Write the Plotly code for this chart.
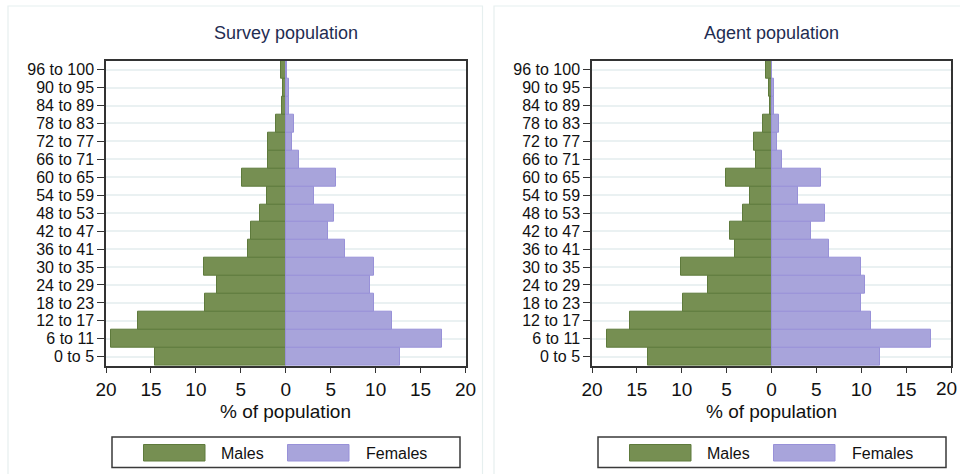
import plotly.graph_objects as go

age_groups = ["0 to 5", "6 to 11", "12 to 17", "18 to 23", "24 to 29", "30 to 35",
              "36 to 41", "42 to 47", "48 to 53", "54 to 59", "60 to 65", "66 to 71",
              "72 to 77", "78 to 83", "84 to 89", "90 to 95", "96 to 100"]

survey_males = [14.55, 19.44, 16.4, 8.94, 7.64, 9.05, 4.16, 3.82, 2.82, 2.04, 4.86,
                1.93, 1.93, 1.04, 0.4, 0.3, 0.52]
survey_females = [12.69, 17.37, 11.87, 9.87, 9.39, 9.87, 6.64, 4.75, 5.34, 3.12, 5.64,
                  1.52, 0.67, 0.89, 0.33, 0.4, 0.15]
agent_males = [13.73, 18.37, 15.81, 9.91, 7.12, 10.06, 4.12, 4.68, 3.23, 2.37, 5.05,
               1.74, 2.0, 1.0, 0.22, 0.26, 0.56]
agent_females = [12.13, 17.77, 11.13, 10.02, 10.43, 10.02, 6.38, 4.38, 6.01, 2.93, 5.57,
                 1.22, 0.56, 0.82, 0.3, 0.33, 0.11]

panel_titles = ["Survey population", "Agent population"]
x_tickvals = [-20, -15, -10, -5, 0, 5, 10, 15, 20]
x_ticktext = ["20", "15", "10", "5", "0", "5", "10", "15", "20"]

W, H = 960, 474
FONT = "Liberation Sans, Arial, sans-serif"
MALE_FILL, MALE_LINE = "#768F52", "#5E7A3C"
FEM_FILL, FEM_LINE = "#A8A4DB", "#9891D8"
GRID = "#EAF1F2"
AXIS = "#333333"

def px(x):
    return x / W

def py(y):
    return 1 - y / H

fig = go.Figure()

panels = [(survey_males, survey_females), (agent_males, agent_females)]
offsets = [0, 486]

for i, (males, females) in enumerate(panels):
    xa = "x" if i == 0 else "x2"
    ya = "y" if i == 0 else "y2"
    fig.add_trace(go.Bar(y=age_groups, x=[-v for v in males], orientation="h",
                         name="Males", xaxis=xa, yaxis=ya, showlegend=False,
                         marker=dict(color=MALE_FILL, line=dict(color=MALE_LINE, width=1))))
    fig.add_trace(go.Bar(y=age_groups, x=females, orientation="h",
                         name="Females", xaxis=xa, yaxis=ya, showlegend=False,
                         marker=dict(color=FEM_FILL, line=dict(color=FEM_LINE, width=1))))

axis_common_x = dict(range=[-20, 20], tickmode="array", tickvals=x_tickvals, ticktext=x_ticktext,
                     showgrid=False, zeroline=False, showline=True, linecolor=AXIS,
                     linewidth=1.5, mirror=True, ticks="outside", ticklen=6,
                     tickcolor=AXIS, tickwidth=1.2, tickangle=0, automargin=False,
                     tickfont=dict(family=FONT, size=19, color="#111111"), fixedrange=True)
axis_common_y = dict(type="category", categoryorder="array", categoryarray=age_groups,
                     tickmode="array", tickvals=age_groups, ticktext=age_groups,
                     range=[-0.5, 16.5], showgrid=True, gridcolor=GRID, gridwidth=1.5,
                     showline=True, linecolor=AXIS, linewidth=1.5, mirror=True,
                     ticks="outside", ticklen=7, tickcolor=AXIS, tickwidth=1.2,
                     tickfont=dict(family=FONT, size=16, color="#111111"), fixedrange=True,
                     automargin=False)

y_dom = [py(365.7), py(60.7)]
fig.update_layout(
    xaxis=dict(domain=[px(106), px(465.5)], anchor="y", **axis_common_x),
    yaxis=dict(domain=y_dom, anchor="x", **axis_common_y),
    xaxis2=dict(domain=[px(592), px(951)], anchor="y2", **axis_common_x),
    yaxis2=dict(domain=y_dom, anchor="x2", **axis_common_y),
)

shapes = []
annotations = []
# panel borders
shapes.append(dict(type="rect", xref="paper", yref="paper", x0=px(8), x1=px(482.5),
                   y0=py(480), y1=py(6), line=dict(color="#E6EFEF", width=1.2), layer="below"))
shapes.append(dict(type="rect", xref="paper", yref="paper", x0=px(494), x1=px(970),
                   y0=py(480), y1=py(6), line=dict(color="#E6EFEF", width=1.2), layer="below"))

# right-most tick label of right panel (would be hidden by plotly at the figure edge)
annotations.append(dict(text=x_ticktext[-1], x=x_tickvals[-1], xref="x2", y=py(388), yref="paper",
                        showarrow=False, xanchor="right", yanchor="middle", xshift=8,
                        font=dict(family=FONT, size=19, color="#111111")))

for i, off in enumerate(offsets):
    cx = 285.7 + off
    annotations.append(dict(text=panel_titles[i], x=px(cx), y=py(33), xref="paper", yref="paper",
                            showarrow=False, xanchor="center", yanchor="middle",
                            font=dict(family=FONT, size=18, color="#1F2D52")))
    annotations.append(dict(text="% of population", x=px(cx), y=py(411), xref="paper", yref="paper",
                            showarrow=False, xanchor="center", yanchor="middle",
                            font=dict(family=FONT, size=19, color="#111111")))
    # legend box
    shapes.append(dict(type="rect", xref="paper", yref="paper", x0=px(112 + off), x1=px(460 + off),
                       y0=py(467.5), y1=py(437), line=dict(color="#3A3A3A", width=1.5),
                       fillcolor="white"))
    shapes.append(dict(type="rect", xref="paper", yref="paper", x0=px(143.5 + off), x1=px(205 + off),
                       y0=py(461), y1=py(444.5), line=dict(color=MALE_LINE, width=1),
                       fillcolor=MALE_FILL))
    shapes.append(dict(type="rect", xref="paper", yref="paper", x0=px(287.5 + off), x1=px(349 + off),
                       y0=py(461), y1=py(444.5), line=dict(color=FEM_LINE, width=1),
                       fillcolor=FEM_FILL))
    annotations.append(dict(text="Males", x=px(219 + off), y=py(453), xref="paper", yref="paper",
                            showarrow=False, xanchor="left", yanchor="middle",
                            font=dict(family=FONT, size=16, color="#111111")))
    annotations.append(dict(text="Females", x=px(364 + off), y=py(453), xref="paper", yref="paper",
                            showarrow=False, xanchor="left", yanchor="middle",
                            font=dict(family=FONT, size=16, color="#111111")))

fig.update_layout(
    width=W, height=H, margin=dict(l=0, r=0, t=0, b=0, autoexpand=False),
    paper_bgcolor="white", plot_bgcolor="white",
    barmode="relative", bargap=0, showlegend=False,
    shapes=shapes, annotations=annotations,
    font=dict(family=FONT),
)

fig.write_html("out.html", config={"displayModeBar": False},
               post_script="document.body.style.margin='0';document.body.style.overflow='hidden';")
